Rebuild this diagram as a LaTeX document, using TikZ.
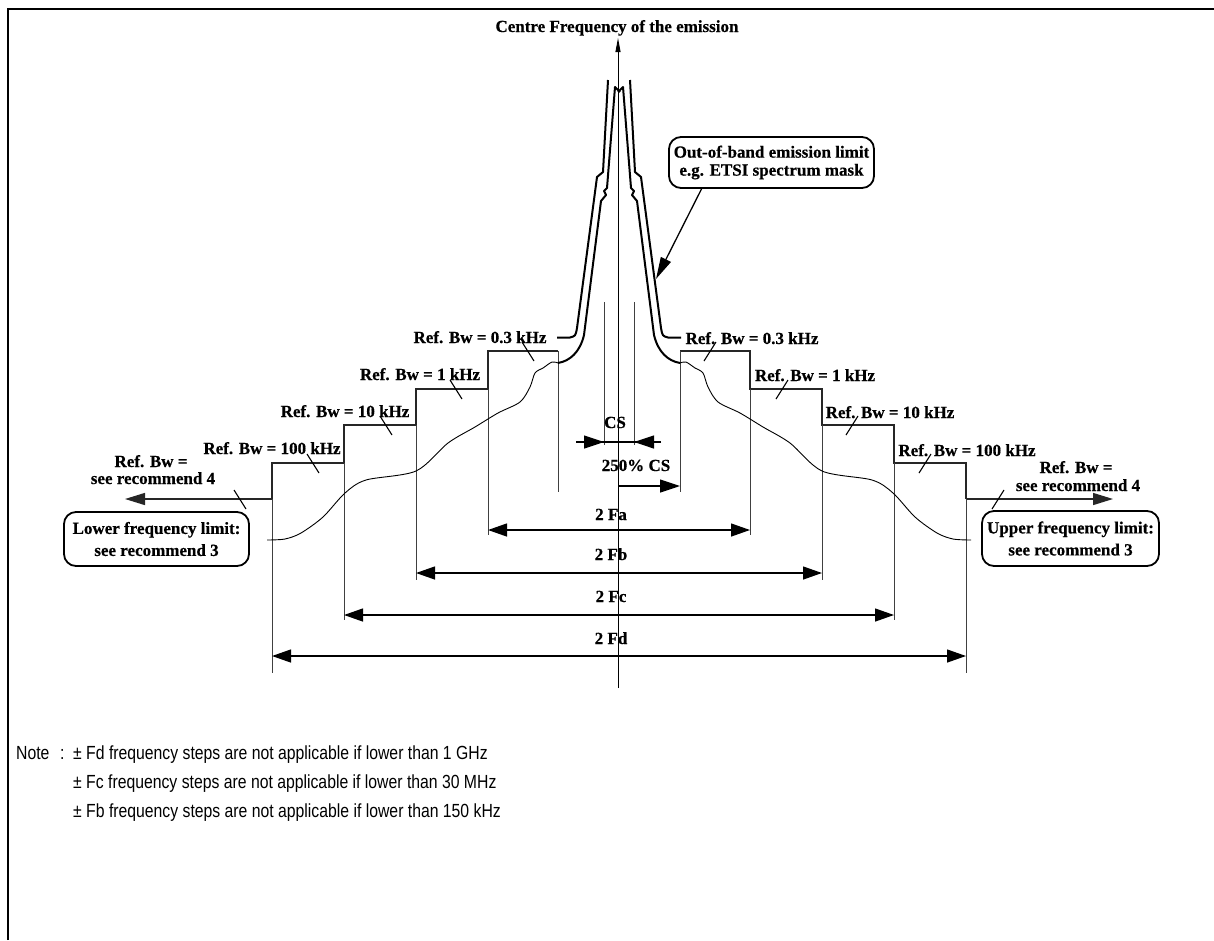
\documentclass[tikz,border=0pt]{standalone}
\usepackage{fontspec}
\setmainfont[BoldFeatures={FakeBold=0.5}]{Liberation Serif}
\newfontfamily\notefont[FakeStretch=0.83]{Liberation Sans}
\usetikzlibrary{arrows.meta}
\newcommand\halfside[1]{%
  \coordinate (rec#1) at (125,499);
  \coordinate (s0#1) at (272,499);
  \draw[stepline,-{Triangle[length=20pt,width=12pt]}] (s0#1) -- (rec#1);
  \draw[stepline] (s0#1) -- (272,463) -- (344,463) -- (344,425) -- (416,425) -- (416,389) -- (488,389) -- (488,351) -- (558,351);
  \draw[vline] (558,351) -- (558,492);
  \draw[vline] (272,499) -- (272,673);
  \draw[vline] (344,463) -- (344,620);
  \draw[vline] (416,425) -- (416,580);
  \draw[vline] (488,389) -- (488,535);
  \draw[vline] (604,302) -- (604,445);
  \foreach \bx/\by in {240/499,313/463,386/425,456/389,528/351}
    \draw[brk] (\bx-6,\by-9) -- (\bx+6,\by+10);
  \draw[mask] (608,80) -- (603,172) -- (597,177) -- (577,328)
     .. controls (575.5,336) .. (570,337.5) -- (557,337.5);
  \draw[mask] (620,92) -- (615,87) -- (607,188) -- (604,191) -- (606,195) -- (601,201)
     -- (584,335) .. controls (580,352) and (570,361) .. (558,363);
  \draw[spec] plot[smooth,tension=0.5] coordinates {(558,363) (552,362) (543,368) (535,373)
     (530,387) (520,402) (498,413) (475,427) (448,443) (416,471) (366,480) (345,493)
     (323,517) (301,533) (285,539) (267,540)};
}
\begin{document}
\begin{tikzpicture}[x=1pt,y=-1pt,
  lbl/.style={font=\fontsize{17}{19}\selectfont\bfseries, inner sep=0pt, anchor=base},
  note/.style={font=\notefont\fontsize{19}{21}\selectfont, inner sep=0pt, anchor=base west},
  stepline/.style={line width=1.4pt, draw=black!85},
  vline/.style={line width=0.9pt, draw=black!75},
  mask/.style={line width=2pt, line join=round},
  spec/.style={line width=0.9pt},
  brk/.style={line width=1.1pt},
  dim/.style={line width=1.3pt, {Triangle[length=19pt,width=13pt]}-{Triangle[length=19pt,width=13pt]}},
  tip/.style={-{Triangle[length=20pt,width=13pt]}},
  rbox/.style={draw, line width=1.8pt, rounded corners=12pt, inner sep=0pt, align=center,
     font=\fontsize{17}{22}\selectfont\bfseries},
]
\useasboundingbox (0,0) rectangle (1214,940);
% frame
\draw[line width=2pt] (8,940) -- (8,9) -- (1214,9);
% title and axis
\node[lbl] (title) at (617,32) {Centre Frequency of the emission};
\coordinate (axb) at (618,688);
\coordinate (axt) at (618,38);
\draw[line width=0.9pt, -{Triangle[length=14pt,width=5pt]}] (axb) -- (axt);
% both halves
\halfside{L}
\begin{scope}[shift={(1238,0)}, xscale=-1]
\halfside{R}
\end{scope}
% CS markers
\coordinate (csa) at (576,442);
\coordinate (csl) at (604,442);
\coordinate (csr) at (634,442);
\coordinate (csb) at (661,442);
\draw[line width=1.2pt] (csa) -- (csb);
\draw[line width=1.2pt, tip] (csa) -- (csl);
\draw[line width=1.2pt, tip] (csb) -- (csr);
\node[lbl] (cs) at (615,428) {CS};
\coordinate (p250a) at (618,486);
\coordinate (p250b) at (680,486);
\draw[line width=1.2pt, tip] (p250a) -- (p250b);
\node[lbl] (cs250) at (636,471) {250\% CS};
% dimension arrows
\coordinate (faL) at (488,530); \coordinate (faR) at (750,530);
\coordinate (fbL) at (416,573); \coordinate (fbR) at (822,573);
\coordinate (fcL) at (344,615); \coordinate (fcR) at (894,615);
\coordinate (fdL) at (272,656); \coordinate (fdR) at (966,656);
\draw[dim] (faL) -- (faR);
\draw[dim] (fbL) -- (fbR);
\draw[dim] (fcL) -- (fcR);
\draw[dim] (fdL) -- (fdR);
\node[lbl] (fa) at (611,520) {2 Fa};
\node[lbl] (fb) at (611,560) {2 Fb};
\node[lbl] (fc) at (611,602) {2 Fc};
\node[lbl] (fd) at (611,644) {2 Fd};
% step labels left
\node[lbl] (l03) at (480,343) {Ref. Bw = 0.3 kHz};
\node[lbl] (l1) at (420,380) {Ref. Bw = 1 kHz};
\node[lbl] (l10) at (345,417) {Ref. Bw = 10 kHz};
\node[lbl] (l100) at (272,454) {Ref. Bw = 100 kHz};
\node[lbl] (lr4a) at (151,467) {Ref. Bw =};
\node[lbl] (lr4b) at (153,484) {see recommend 4};
% step labels right
\node[lbl] (r03) at (752,344) {Ref. Bw = 0.3 kHz};
\node[lbl] (r1) at (815,381) {Ref. Bw = 1 kHz};
\node[lbl] (r10) at (890,418) {Ref. Bw = 10 kHz};
\node[lbl] (r100) at (967,456) {Ref. Bw = 100 kHz};
\node[lbl] (rr4a) at (1076,473) {Ref. Bw =};
\node[lbl] (rr4b) at (1078,491) {see recommend 4};
% boxes
\node[rbox, minimum width=185pt, minimum height=54pt] (lowbox) at (156.5,539) {Lower frequency limit:\\see recommend 3};
\node[rbox, minimum width=177pt, minimum height=55pt] (upbox) at (1070.5,538.5) {Upper frequency limit:\\see recommend 3};
\node[rbox, minimum width=205pt, minimum height=51pt, font=\fontsize{17}{18}\selectfont\bfseries] (callout) at (771.5,162.5) {Out-of-band emission limit\\e.g. ETSI spectrum mask};
\coordinate (cfrom) at (702,188);
\coordinate (cto) at (656,279);
\draw[line width=1.3pt, -{Triangle[length=22pt,width=11pt]}] (cfrom) -- (cto);
% notes
\node[note] (notelbl) at (16,759) {Note};
\node[note] (notecol) at (60,759) {:};
\node[note] (n1) at (73,759) {± Fd frequency steps are not applicable if lower than 1 GHz};
\node[note] (n2) at (73,788) {± Fc frequency steps are not applicable if lower than 30 MHz};
\node[note] (n3) at (73,817) {± Fb frequency steps are not applicable if lower than 150 kHz};
\end{tikzpicture}
\end{document}
